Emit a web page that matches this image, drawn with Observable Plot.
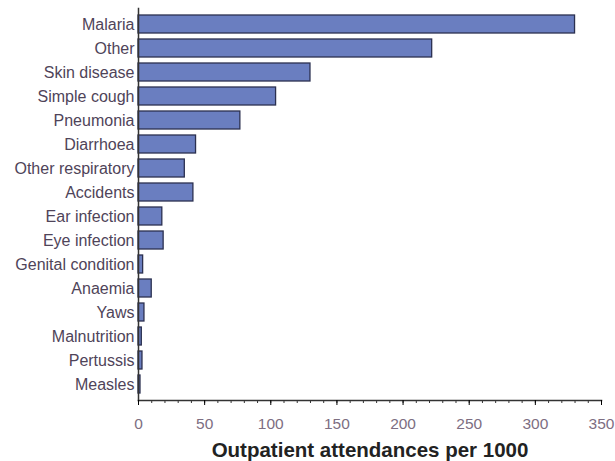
<!DOCTYPE html>
<html>
<head>
<meta charset="utf-8">
<script src="https://cdn.jsdelivr.net/npm/d3@7"></script>
<script src="https://cdn.jsdelivr.net/npm/@observablehq/plot@0.6"></script>
<style>
  body { margin: 0; background: #fff; }
  #chart svg { display: block; }
</style>
</head>
<body>
<div id="chart"></div>
<script>
const categories = ["Malaria", "Other", "Skin disease", "Simple cough", "Pneumonia", "Diarrhoea",
  "Other respiratory", "Accidents", "Ear infection", "Eye infection", "Genital condition",
  "Anaemia", "Yaws", "Malnutrition", "Pertussis", "Measles"];
const values = [330, 222, 130, 104, 77, 43.5, 35, 41.5, 18, 19, 3.5, 10, 4.5, 2.5, 3, 1.5];
const majorTicks = [0, 50, 100, 150, 200, 250, 300, 350];
const minorTicks = d3.range(0, 351, 10);
const xLabel = "Outpatient attendances per 1000";

const data = categories.map((c, i) => ({category: c, value: values[i]}));

const M = {marginLeft: 138, marginRight: 14, marginTop: 8, marginBottom: 61};

const chart = Plot.plot({
  width: 615,
  height: 461,
  ...M,
  style: {fontFamily: "'Liberation Sans', Arial, sans-serif", background: "#fff"},
  x: {domain: [0, 350]},
  y: {domain: categories, padding: 0.25},
  marks: [
    Plot.barX(data, {x: "value", y: "category", fill: "#6a7ec0", stroke: "#2b3050", strokeWidth: 1.3}),
    Plot.frame({anchor: "left", stroke: "#333", strokeWidth: 1.5}),
    Plot.frame({anchor: "bottom", stroke: "#333", strokeWidth: 1.5}),
    Plot.axisY({...M, tickSize: 0, tickPadding: 4, fontSize: 16, color: "#4f4459", label: null}),
    Plot.axisX({...M, ticks: minorTicks, tickSize: 3, text: null, label: null, stroke: "#333"}),
    Plot.axisX({...M, ticks: majorTicks, tickSize: 5, tickPadding: 12, fontSize: 15.5,
      label: xLabel, labelAnchor: "center", labelArrow: "none", labelOffset: 56})
  ]
});

chart.querySelectorAll("g[aria-label='x-axis tick label'] text").forEach(t => t.setAttribute("fill", "#7d6e82"));
const lab = chart.querySelector("g[aria-label='x-axis label'] text");
if (lab) { lab.setAttribute("font-weight", "bold"); lab.setAttribute("font-size", "20.5"); lab.setAttribute("fill", "#222"); }
document.getElementById("chart").appendChild(chart);
</script>
</body>
</html>
